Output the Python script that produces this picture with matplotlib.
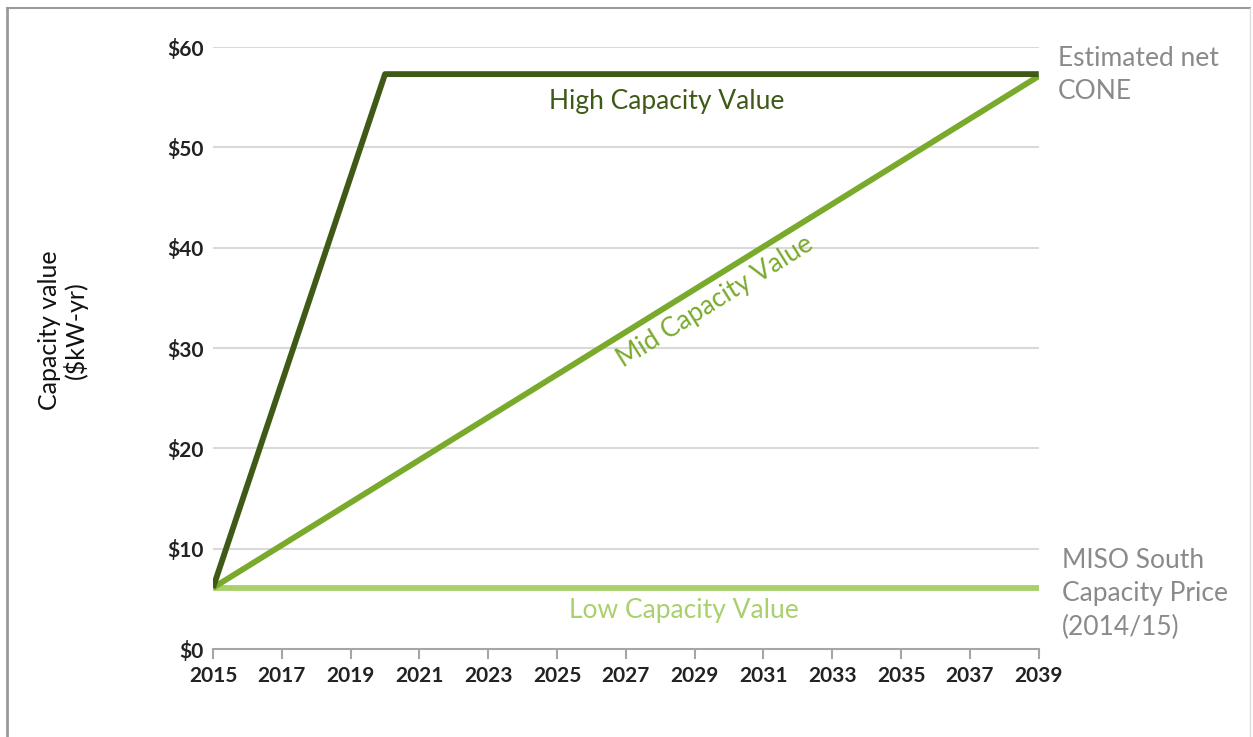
import matplotlib
matplotlib.use("Agg")
import matplotlib.pyplot as plt
from matplotlib.lines import Line2D

plt.rcParams['font.family'] = ['Lato', 'DejaVu Sans']

# data
high_years = [2015, 2020, 2039]
high_vals = [6.1, 57.3, 57.3]
mid_years = [2015, 2039]
mid_vals = [6.1, 57.1]
low_years = [2015, 2039]
low_vals = [6.1, 6.1]
xticks = list(range(2015, 2040, 2))
yticks = [0, 10, 20, 30, 40, 50, 60]

dark = '#3f5a16'
mid = '#7aaa2c'
light = '#a9d06c'
grey = '#8a8a8a'

fig = plt.figure(figsize=(12.53, 7.37), dpi=100)
ax = fig.add_axes([0.170, 0.1194, 0.659, 0.8168])

for y in yticks[1:]:
    ax.axhline(y, color='#d9d9d9', lw=1.5, zorder=1)

ax.plot(low_years, low_vals, color=light, lw=4.2, solid_capstyle='butt', zorder=3)
ax.plot(mid_years, mid_vals, color=mid, lw=4.2, solid_capstyle='butt', zorder=4)
ax.plot(high_years, high_vals, color=dark, lw=4.2, solid_capstyle='butt', zorder=5)

ax.set_xlim(2015, 2039)
ax.set_ylim(0, 60)
ax.set_xticks(xticks)
ax.set_xticklabels([str(x) for x in xticks])
ax.set_yticks(yticks)
ax.set_yticklabels(['$%d' % v for v in yticks])
ax.tick_params(axis='x', length=7, width=1.5, color='#a6a6a6', labelsize=15, pad=5, labelcolor='#222222')
ax.tick_params(axis='y', length=0, labelsize=15, pad=7, labelcolor='#222222')
for lbl in ax.get_xticklabels() + ax.get_yticklabels():
    lbl.set_fontweight('bold')

for s in ['top', 'right', 'left']:
    ax.spines[s].set_visible(False)
ax.spines['bottom'].set_color('#a6a6a6')
ax.spines['bottom'].set_linewidth(1.5)

ax.set_ylabel('Capacity value\n($kW-yr)', fontsize=18, color='#111111', linespacing=1.1)
ax.yaxis.set_label_coords(-0.151, 0.53)

ax.text(2028.2, 54.6, 'High Capacity Value', color=dark, fontsize=19, ha='center', va='center')
ax.text(2029.6, 34.6, 'Mid Capacity Value', color=mid, fontsize=19, ha='center', va='center',
        rotation=32, rotation_mode='anchor')
ax.text(2028.7, 3.8, 'Low Capacity Value', color=light, fontsize=19, ha='center', va='center')

fig.text(1058 / 1253, 1 - 46 / 737, 'Estimated net\nCONE', color=grey, fontsize=19,
         ha='left', va='top', linespacing=1.38)
fig.text(1062 / 1253, 1 - 548 / 737, 'MISO South\nCapacity Price\n(2014/15)', color=grey,
         fontsize=19, ha='left', va='top', linespacing=1.42)

# frame around the picture
fig.add_artist(Line2D([7 / 1253, 7 / 1253], [0, 1 - 8 / 737], color='#9a9a9a', lw=2,
                      transform=fig.transFigure))
fig.add_artist(Line2D([7 / 1253, 1250 / 1253], [1 - 8 / 737, 1 - 8 / 737], color='#9a9a9a', lw=1.5,
                      transform=fig.transFigure))
fig.add_artist(Line2D([1250 / 1253, 1250 / 1253], [0, 1 - 8 / 737], color='#dddddd', lw=1,
                      transform=fig.transFigure))

fig.savefig('out.png', dpi=100)
